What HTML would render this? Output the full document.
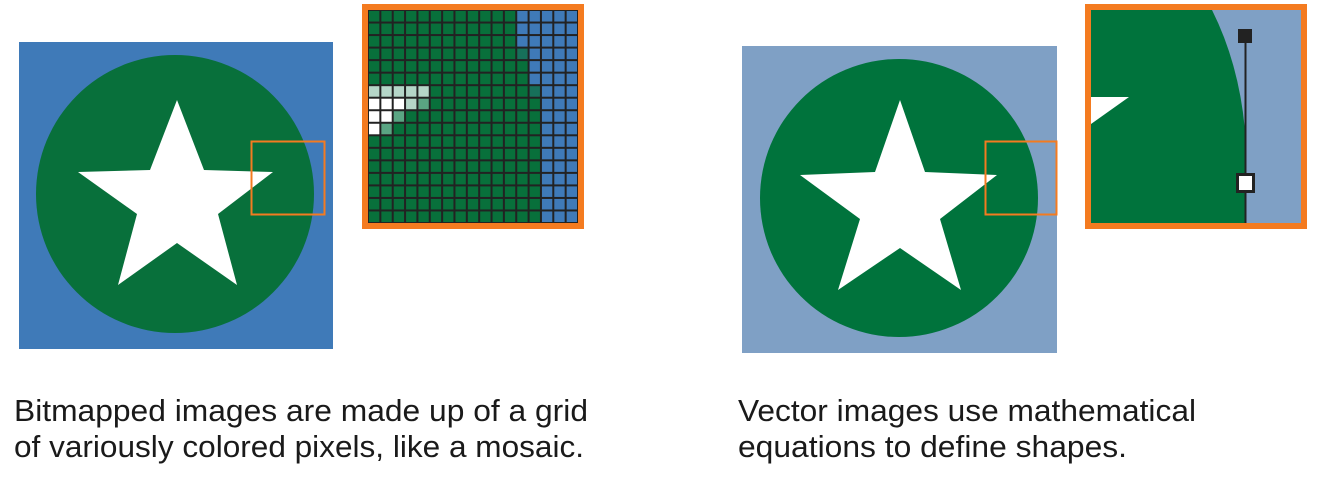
<!DOCTYPE html>
<html><head><meta charset="utf-8"><style>
html,body{margin:0;padding:0;background:#fff;}
svg{display:block;}
text{font-family:"Liberation Sans",sans-serif;font-size:31px;fill:#1a1a1a;}
</style></head><body>
<svg id="s" width="1321" height="500" viewBox="0 0 1321 500">
  <g>
    <rect x="19" y="42" width="314" height="307" fill="#3f7ab8"/>
    <circle cx="175" cy="194" r="139" fill="#08703b"/>
    <polygon points="177,100 204,170 273,172 218,214 237,285 177,243 118,285 137,214 78,172 150,170" fill="#fff"/>
    <rect x="251.5" y="141.5" width="73" height="73" fill="none" stroke="#f47b20" stroke-width="2"/>
  </g>
  <g>
    <rect x="362" y="4" width="222" height="225" fill="#f47b20"/>
    <rect x="368" y="10" width="210" height="213" fill="#222"/>
    <g id="grid"></g>
  </g>
  <g>
    <rect x="742" y="46" width="315" height="307" fill="#7fa0c5"/>
    <circle cx="899" cy="198" r="139" fill="#00733c"/>
    <polygon points="900,100 925,172 997,175 940,219 961,290 900,248 838,290 860,219 800,175 875,172" fill="#fff"/>
    <rect x="985.5" y="141.5" width="71" height="73" fill="none" stroke="#f47b20" stroke-width="2"/>
  </g>
  <g>
    <rect x="1085" y="4" width="222" height="225" fill="#f47b20"/>
    <rect x="1091" y="10" width="210" height="213" fill="#7fa0c5"/>
    <path d="M1091,10 L1212,10 Q1242,70 1246,145 L1246,223 L1091,223 Z" fill="#00733c"/>
    <polygon points="1091,97 1129,97 1091,124" fill="#fff"/>
    <line x1="1245.5" y1="36" x2="1245.5" y2="223" stroke="#222" stroke-width="2"/>
    <rect x="1238" y="29" width="14" height="14" fill="#222"/>
    <rect x="1237.5" y="174.5" width="16" height="17" fill="#fff" stroke="#222" stroke-width="3"/>
  </g>
  <text x="14" y="421" textLength="574" lengthAdjust="spacingAndGlyphs">Bitmapped images are made up of a grid</text>
  <text x="14" y="457" textLength="570" lengthAdjust="spacingAndGlyphs">of variously colored pixels, like a mosaic.</text>
  <text x="738" y="421" textLength="458" lengthAdjust="spacingAndGlyphs">Vector images use mathematical</text>
  <text x="738" y="457" textLength="389" lengthAdjust="spacingAndGlyphs">equations to define shapes.</text>
</svg>
<script>
const blueStart=[12,12,12,13,13,13,14,14,14,14,14,14,14,14,14,14,14];
const whiteRows=[[6,[1,1,1,1,1]],[7,[2,2,2,1,3]],[8,[2,2,3]],[9,[2,3]]];
const g=document.getElementById('grid');
const ns='http://www.w3.org/2000/svg';
const cols=17,rows=17,x0=368,y0=10,cw=210/cols,ch=213/rows;
const wmap={};whiteRows.forEach(([r,a])=>{wmap[r]=a;});
for(let r=0;r<rows;r++){for(let c=0;c<cols;c++){
  let col='#08703b';
  if(c>=blueStart[r])col='#3f7ab8';
  else if(c===blueStart[r]-1&&r>0&&blueStart[r-1]<blueStart[r])col='#17705a';
  if(wmap[r]&&c<wmap[r].length){col=['','#b5d6c8','#fff','#5aa583'][wmap[r][c]];}
  const e=document.createElementNS(ns,'rect');
  e.setAttribute('x',x0+c*cw+1);e.setAttribute('y',y0+r*ch+1);
  e.setAttribute('width',cw-2);e.setAttribute('height',ch-2);e.setAttribute('fill',col);
  
  
  g.appendChild(e);
}}
</script>
</body></html>
